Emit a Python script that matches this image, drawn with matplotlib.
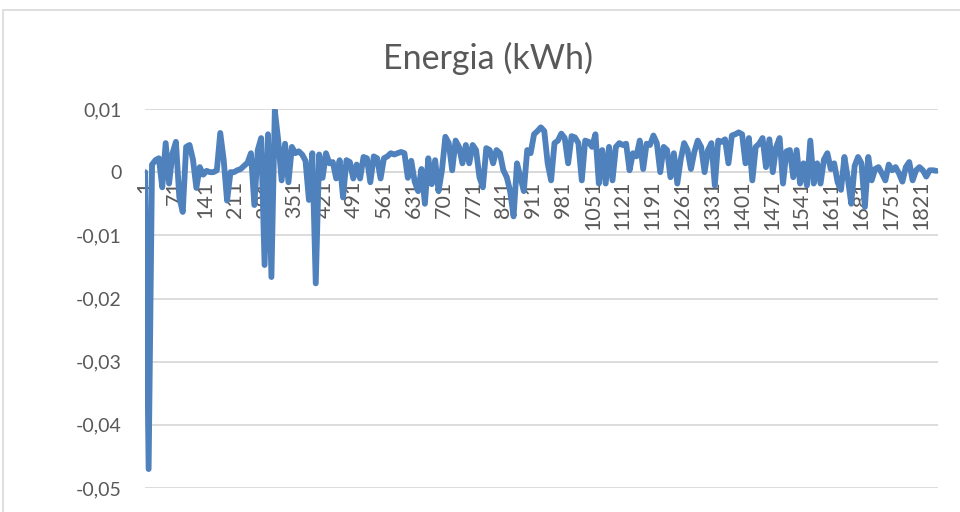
import numpy as np
import matplotlib
matplotlib.use("Agg")
import matplotlib.pyplot as plt
from matplotlib.patches import Rectangle

plt.rcParams['font.family'] = ['Lato', 'DejaVu Sans']

# valori (kWh), una misura ogni 8 categorie
energia = [
    0.0000, -0.0470, 0.0012, 0.0019, 0.0022, -0.0024, 0.0046, -0.0018, 0.0030, 0.0048,
    -0.0040, -0.0063, 0.0040, 0.0043, 0.0020, -0.0025, 0.0008, -0.0004, 0.0002, 0.0000,
    0.0000, 0.0003, 0.0062, 0.0020, -0.0045, 0.0000, 0.0000, 0.0003, 0.0005, 0.0010,
    0.0015, 0.0030, -0.0052, 0.0035, 0.0054, -0.0147, 0.0060, -0.0166, 0.0098, 0.0050,
    -0.0013, 0.0045, -0.0016, 0.0040, 0.0030, 0.0033, 0.0028, 0.0018, -0.0044, 0.0030,
    -0.0176, 0.0028, -0.0009, 0.0030, 0.0014, 0.0016, -0.0010, 0.0019, -0.0040, 0.0019,
    0.0016, -0.0010, 0.0012, -0.0010, 0.0024, 0.0022, -0.0016, 0.0025, 0.0022, -0.0010,
    0.0022, 0.0025, 0.0030, 0.0028, 0.0030, 0.0032, 0.0030, -0.0009, 0.0018, -0.0015,
    -0.0030, 0.0005, -0.0050, 0.0022, -0.0019, 0.0019, -0.0030, 0.0003, 0.0056, 0.0046,
    0.0003, 0.0050, 0.0040, 0.0014, 0.0043, 0.0014, 0.0043, 0.0035, -0.0008, -0.0024,
    0.0038, 0.0035, 0.0014, 0.0035, 0.0030, 0.0003, -0.0008, -0.0030, -0.0070, 0.0014,
    -0.0008, -0.0030, 0.0035, 0.0030, 0.0060, 0.0065, 0.0071, 0.0065, 0.0014, -0.0013,
    0.0046, 0.0050, 0.0061, 0.0054, 0.0014, 0.0057, 0.0055, 0.0046, -0.0013, 0.0050,
    0.0048, 0.0040, 0.0060, -0.0018, 0.0035, -0.0018, 0.0040, -0.0013, 0.0040, 0.0046,
    0.0043, 0.0045, 0.0003, 0.0030, 0.0025, 0.0050, 0.0005, 0.0045, 0.0043, 0.0058,
    0.0046, 0.0000, 0.0040, 0.0035, -0.0008, 0.0030, -0.0018, 0.0020, 0.0046, 0.0035,
    0.0005, 0.0032, 0.0050, 0.0040, 0.0000, 0.0035, 0.0046, -0.0021, 0.0050, 0.0048,
    0.0052, 0.0014, 0.0058, 0.0060, 0.0063, 0.0060, 0.0014, 0.0054, -0.0013, 0.0040,
    0.0045, 0.0054, 0.0008, 0.0052, 0.0000, 0.0040, 0.0054, -0.0018, 0.0033, 0.0035,
    -0.0008, 0.0035, -0.0018, 0.0014, -0.0021, 0.0050, -0.0018, 0.0014, -0.0018, 0.0020,
    0.0030, 0.0005, 0.0014, -0.0016, -0.0028, 0.0024, -0.0010, -0.0050, 0.0010, 0.0024,
    0.0014, -0.0055, 0.0024, -0.0013, 0.0005, 0.0008, -0.0002, -0.0013, 0.0012, 0.0003,
    0.0008, -0.0002, -0.0015, 0.0008, 0.0016, -0.0013, 0.0003, 0.0008, 0.0003, -0.0007,
    0.0003, 0.0003, 0.0002,
]
categorie = list(range(1, 1 + 8 * len(energia), 8))
n_categorie = 1860

x_ticks = list(range(1, 1822, 70))
x_labels = [str(t) for t in x_ticks]
y_ticks = [-0.05, -0.04, -0.03, -0.02, -0.01, 0.0, 0.01]
y_labels = ['-0,05', '-0,04', '-0,03', '-0,02', '-0,01', '0', '0,01']

grigio = '#595959'
griglia = '#d9d9d9'

fig = plt.figure(figsize=(9.6, 5.12), dpi=100)
ax = fig.add_axes([145/960, 24/512, 793/960, 379/512])

# asse delle categorie sullo zero (prima di fissare le etichette)
for s in ['top', 'right', 'left']:
    ax.spines[s].set_visible(False)
ax.spines['bottom'].set_position(('data', 0))
ax.spines['bottom'].set_color(griglia)
ax.spines['bottom'].set_linewidth(1.3)

ax.plot(categorie, energia, color='#4F81BD', lw=4.2,
        solid_joinstyle='round', solid_capstyle='round', zorder=3)

ax.set_xlim(0.5, n_categorie + 0.5)
ax.set_ylim(-0.05, 0.01)
ax.set_yticks(y_ticks)
ax.set_yticklabels(y_labels)
ax.set_xticks(x_ticks)
ax.set_xticklabels(x_labels)

ax.yaxis.grid(True, color=griglia, lw=1.3)
ax.set_axisbelow(True)

ax.tick_params(axis='y', length=0, pad=17, labelsize=14, colors=grigio)
ax.tick_params(axis='x', length=0, pad=6, labelsize=15.5, colors=grigio,
               labelrotation=90)
for lab in ax.get_xticklabels():
    lab.set_verticalalignment('top')
    lab.set_horizontalalignment('center')

fig.text(488/960, 1 - 58/512, 'Energia (kWh)', ha='center', va='center',
         fontsize=24.5, color=grigio)

# bordo dell'area del grafico
fig.patches.append(Rectangle((3/960, -0.1), 1.2, 1.1 - 10/512, transform=fig.transFigure,
                             fill=False, edgecolor=griglia, lw=1.2))

fig.savefig('out.png', dpi=100)
